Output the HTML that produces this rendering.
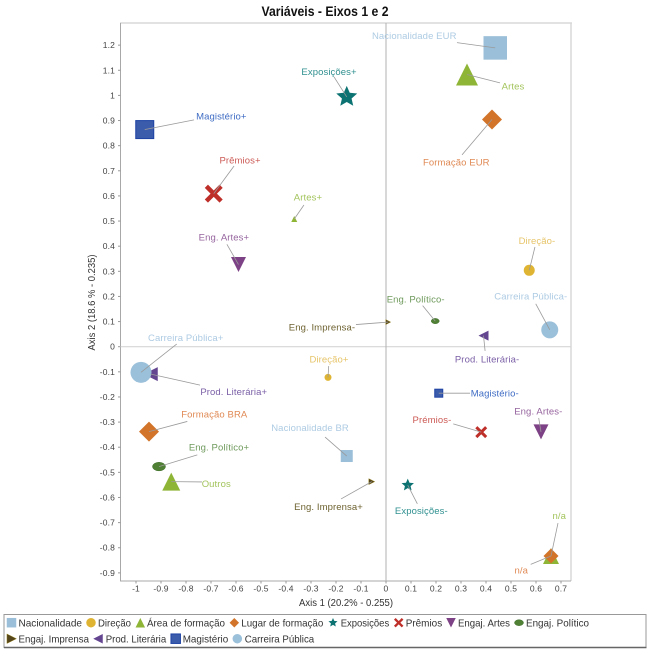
<!DOCTYPE html>
<html lang="pt">
<head>
<meta charset="utf-8">
<title>Variáveis - Eixos 1 e 2</title>
<style>
html,body{margin:0;padding:0;background:#fff;}
svg{display:block;font-family:"Liberation Sans",sans-serif;}
</style>
</head>
<body>
<svg id="chart" xmlns="http://www.w3.org/2000/svg" width="650" height="653" viewBox="0 0 650 653">
  <text x="325" y="16" text-anchor="middle" font-size="14" font-weight="bold" fill="#111" textLength="127" lengthAdjust="spacingAndGlyphs">Variáveis - Eixos 1 e 2</text>
  <rect x="120.5" y="23" width="450.5" height="558" fill="#fff"/>
  <line x1="120" y1="23" x2="572" y2="23" stroke="#d8d8d8" stroke-width="1.5"/>
  <line x1="571" y1="23" x2="571" y2="581" stroke="#d8d8d8" stroke-width="1.5"/>
  <line x1="120.5" y1="23" x2="120.5" y2="581" stroke="#a8a8a8" stroke-width="1"/>
  <line x1="120" y1="581" x2="571" y2="581" stroke="#a8a8a8" stroke-width="1"/>
  <g id="axes"></g>
  <g id="points"></g>
  <g id="labels"></g>
  <text x="346" y="606" text-anchor="middle" font-size="10" fill="#333" textLength="94" lengthAdjust="spacingAndGlyphs">Axis 1 (20.2% - 0.255)</text>
  <text transform="translate(95,302.5) rotate(-90)" text-anchor="middle" font-size="10" fill="#333" textLength="96" lengthAdjust="spacingAndGlyphs">Axis 2 (18.6 % - 0.235)</text>
  <g>
    <rect x="4" y="614.5" width="642" height="33" fill="#fff" stroke="#999" stroke-width="1"/>
    <line x1="4" y1="647.5" x2="646.5" y2="647.5" stroke="#666" stroke-width="1.5"/>
    <g id="legend-items"></g>
  </g>
</svg>
<script>
var xTicks = [-1,-0.9,-0.8,-0.7,-0.6,-0.5,-0.4,-0.3,-0.2,-0.1,0,0.1,0.2,0.3,0.4,0.5,0.6,0.7];
var yTicks = [-0.9,-0.8,-0.7,-0.6,-0.5,-0.4,-0.3,-0.2,-0.1,0,0.1,0.2,0.3,0.4,0.5,0.6,0.7,0.8,0.9,1,1.1,1.2];

var pointLabels = ["Nacionalidade EUR","Artes","Formação EUR","Exposições+","Magistério+","Prêmios+","Artes+","Eng. Artes+","Direção-","Carreira Pública-","Eng. Político-","Eng. Imprensa-","Prod. Literária-","Carreira Pública+","Prod. Literária+","Formação BRA","Eng. Político+","Outros","Direção+","Nacionalidade BR","Eng. Imprensa+","Exposições-","Magistério-","Prémios-","Eng. Artes-","n/a","n/a"];
var pointCategories = ["nac","area","lugar","expo","mag","prem","area","artes","dir","carr","pol","imp","lit","carr","lit","lugar","pol","area","dir","nac","imp","expo","mag","prem","artes","area","lugar"];
var axis1Values = [0.437,0.324,0.424,-0.157,-0.965,-0.689,-0.367,-0.59,0.573,0.655,0.197,0.009,0.39,-0.98,-0.941,-0.948,-0.908,-0.859,-0.232,-0.157,-0.057,0.087,0.211,0.381,0.62,0.66,0.66];
var axis2Values = [1.189,1.083,0.904,0.994,0.864,0.609,0.508,0.327,0.304,0.067,0.102,0.098,0.044,-0.102,-0.109,-0.338,-0.477,-0.537,-0.122,-0.435,-0.537,-0.551,-0.185,-0.34,-0.339,-0.833,-0.833];

var legendCategories = ["nac","dir","area","lugar","expo","prem","artes","pol","imp","lit","mag","carr"];
var legendNames = ["Nacionalidade","Direção","Área de formação","Lugar de formação","Exposições","Prêmios","Engaj. Artes","Engaj. Político","Engaj. Imprensa","Prod. Literária","Magistério","Carreira Pública"];

/* ---- presentation only ---- */
var markerSizes = [23.5,22,20,22,18,18,6,15,11,17,8,5,10,21,14,20,13,18,7,12,6,13,8,12,15,16,15];
var labelOffsets = [[-81,-12.5],[46,11.3],[-35.7,42.3],[-17.7,-25.5],[76.6,-13.7],[26.3,-33.7],[13.7,-22],[-14.6,-27.7],[7.7,-29.8],[-19,-34],[-19.6,-22],[-66.3,5],[3.6,23.3],[44.7,-35],[83,17.3],[65.3,-17.7],[60,-19.7],[45,2],[1,-18.3],[-36.7,-28.5],[-43.2,25],[13.6,25.4],[56,0],[-49.3,-12.6],[-2.7,-21],[8.3,-40.7],[-29.7,14]];
var leaderOffsets = [[-38.3,-5.3],[33,8.3],[-30,35.3],[-12.7,-20],[49.3,-9.7],[20.3,-27.7],[9.7,-14],[-11.6,-20.2],[5.7,-23.3],[-14,-26],[-12.6,-15.5],[-32.3,2.5],[1.6,15.3],[35.7,-28.3],[49.3,11],[38.3,-10.2],[38.3,-11.7],[30.7,0.3],[0.7,-11.3],[-21.7,-19],[-30.7,17.3],[9.6,18.7],[31.3,0],[-28,-8.3],[-2.3,-14],[7,-33],[-20.3,8.3]];
var categoryColors = {nac:"#9bbfd9",dir:"#dfb432",area:"#8fb537",lugar:"#d2742a",expo:"#0c7272",prem:"#bf2f2a",artes:"#7d4285",pol:"#4f8034",imp:"#54451a",lit:"#634590",mag:"#3b5bab",carr:"#9bc0da"};
var labelColors = {nac:"#adcbe3",dir:"#e6c469",area:"#a3c45c",lugar:"#e08a55",expo:"#2f8f8f",prem:"#cc5a55",artes:"#96649e",pol:"#6f9a5c",imp:"#6d6230",lit:"#7a5fa6",mag:"#3f6cc4",carr:"#adcbe3"};
var legendRow = [0,0,0,0,0,0,0,0,1,1,1,1];
var legendSymbolX = [11.5,91,140.3,234.3,333,398.7,451,519,11.7,98,175.7,237.3];
var legendTextX = [18.5,98,147,241.3,340.7,405.7,458,526,18.5,105.7,182.7,244.7];
var legendTextW = [63.5,33,78,82,48.5,36.5,52,63,70.5,60.5,45.5,69.5];

var NS = "http://www.w3.org/2000/svg";
function sx(v){ return 386 + 250 * v; }
function sy(v){ return 346.7 - 251.3 * v; }
function mk(tag, attrs, parent){
  var el = document.createElementNS(NS, tag);
  for (var k in attrs) el.setAttribute(k, attrs[k]);
  parent.appendChild(el);
  return el;
}
function poly(pts){ return pts.map(function(p){ return p[0].toFixed(2)+","+p[1].toFixed(2); }).join(" "); }

function drawMarker(cat, x, y, s, parent){
  var c = categoryColors[cat], r = s/2, el, pts = [], i;
  if (cat === "nac" || cat === "mag") {
    el = mk("rect", {x:x-r, y:y-r, width:s, height:s, fill:c}, parent);
    if (cat === "mag") { el.setAttribute("stroke", "#1e43a4"); el.setAttribute("stroke-width", "1"); }
  } else if (cat === "dir" || cat === "carr") {
    el = mk("circle", {cx:x, cy:y, r:r, fill:c}, parent);
  } else if (cat === "pol") {
    el = mk("ellipse", {cx:x, cy:y, rx:r, ry:r*0.66, fill:c, stroke:"#3e6e2a", "stroke-width":0.5}, parent);
  } else if (cat === "area") {
    el = mk("polygon", {points:poly([[x,y-r],[x+r,y+r],[x-r,y+r]]), fill:c}, parent);
  } else if (cat === "artes") {
    el = mk("polygon", {points:poly([[x-r,y-r],[x+r,y-r],[x,y+r]]), fill:c}, parent);
  } else if (cat === "imp") {
    el = mk("polygon", {points:poly([[x-r,y-r],[x+r,y],[x-r,y+r]]), fill:c, stroke:"#a08a20", "stroke-width":0.4}, parent);
  } else if (cat === "lit") {
    el = mk("polygon", {points:poly([[x+r,y-r],[x+r,y+r],[x-r,y]]), fill:c}, parent);
  } else if (cat === "lugar") {
    el = mk("polygon", {points:poly([[x,y-r],[x+r,y],[x,y+r],[x-r,y]]), fill:c}, parent);
  } else if (cat === "expo") {
    for (i = 0; i < 10; i++) {
      var rad = i % 2 ? r*0.46 : r, a = -Math.PI/2 + i*Math.PI/5;
      pts.push([x + rad*Math.cos(a), y + rad*Math.sin(a)]);
    }
    el = mk("polygon", {points:poly(pts), fill:c}, parent);
  } else {
    var q = r*0.82;
    el = mk("path", {d:"M"+(x-q)+" "+(y-q)+"L"+(x+q)+" "+(y+q)+"M"+(x+q)+" "+(y-q)+"L"+(x-q)+" "+(y+q), fill:"none", stroke:c, "stroke-width":s*0.25}, parent);
  }
  return el;
}

var axes = document.getElementById("axes");
var zeroH = mk("line", {x1:120.5, x2:571, y1:sy(0), y2:sy(0), stroke:"#d6d6d6", "stroke-width":1.2}, axes);


var zeroV = mk("line", {x1:sx(0), x2:sx(0), y1:23, y2:581, stroke:"#b0b0b0", "stroke-width":1}, axes);



xTicks.forEach(function(v){
  var t = mk("line", {x1:sx(v), x2:sx(v), y1:581, y2:583.5, stroke:"#999", "stroke-width":1}, axes);
  
  
  var l = mk("text", {x:sx(v), y:591.5, "text-anchor":"middle", "font-size":8.5, "letter-spacing":"0.15", fill:"#444"}, axes);
  
  
  l.textContent = String(v);
});
yTicks.forEach(function(v){
  var t = mk("line", {x1:118, x2:120.5, y1:sy(v), y2:sy(v), stroke:"#999", "stroke-width":1}, axes);
  
  
  var l = mk("text", {x:115, y:sy(v)+3, "text-anchor":"end", "font-size":8.5, "letter-spacing":"0.15", fill:"#444"}, axes);
  
  
  l.textContent = String(v);
});

var pointsG = document.getElementById("points");
var labelsG = document.getElementById("labels");
/* markers stack in legend order, so Carreira Pública sits over Prod. Literária */
legendCategories.forEach(function(cat){
  pointLabels.forEach(function(name, i){
    if (pointCategories[i] !== cat) return;
    var m = drawMarker(cat, sx(axis1Values[i]), sy(axis2Values[i]), markerSizes[i], pointsG);
    
    
  });
});
pointLabels.forEach(function(name, i){
  var cat = pointCategories[i];
  var x = sx(axis1Values[i]), y = sy(axis2Values[i]);
  var lead = mk("line", {x1:x, y1:y, x2:x+leaderOffsets[i][0], y2:y+leaderOffsets[i][1], stroke:"#9a9a9a", "stroke-width":0.8}, labelsG);
  
  
  var t = mk("text", {x:x+labelOffsets[i][0], y:y+labelOffsets[i][1]+3.5, "text-anchor":"middle", "font-size":9.5, "letter-spacing":"0.1", fill:labelColors[cat]}, labelsG);
  
  
  t.textContent = name;
});

var legendG = document.getElementById("legend-items");
legendNames.forEach(function(name, i){
  var cy = legendRow[i] ? 638.7 : 622.7;
  var cat = legendCategories[i];
  var g = mk("g", {}, legendG);
  
  
  var s = (cat === "pol") ? 9 : 9.5;
  var sym = drawMarker(cat, legendSymbolX[i], cy, s, g);
  
  
  var t = mk("text", {x:legendTextX[i], y:cy+3.6, "font-size":10.5, fill:"#333", textLength:legendTextW[i], lengthAdjust:"spacingAndGlyphs"}, g);
  
  
  t.textContent = name;
});
</script>
</body>
</html>
